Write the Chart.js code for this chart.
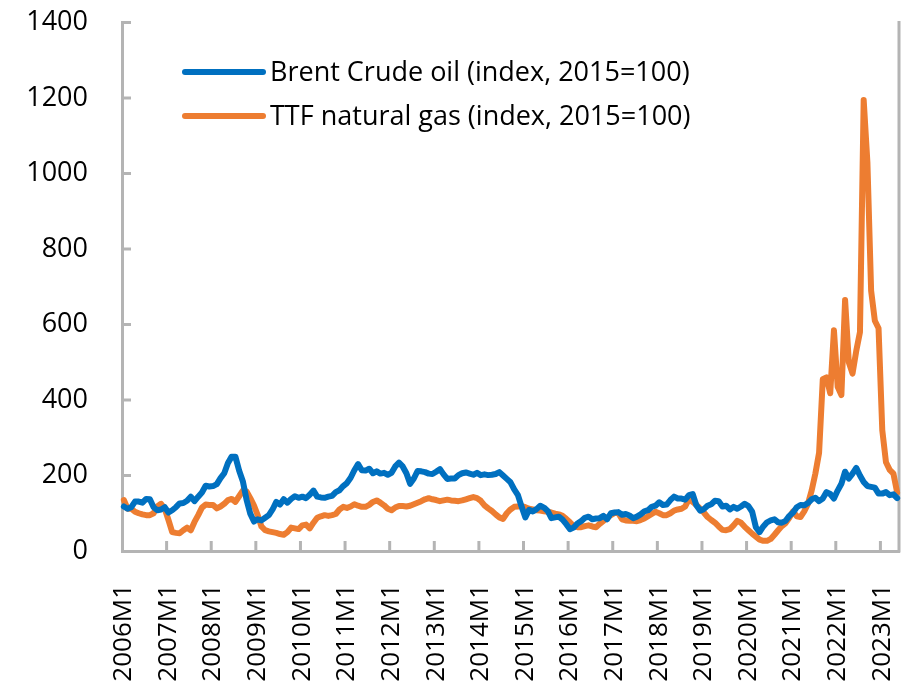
<!DOCTYPE html>
<html><head><meta charset="utf-8">
<script src="https://cdn.jsdelivr.net/npm/chart.js@4.4.1/dist/chart.umd.min.js"></script>
<style>html,body{margin:0;padding:0;background:#fff;}#wrap{width:910px;height:691px;position:relative;}</style>
</head><body><div id="wrap"><canvas id="c" width="910" height="691"></canvas></div>
<script>
// Categories: monthly, 2006M1 .. 2023M5
const firstYear = 2006, lastYear = 2023, lastMonth = 5;
const months = [];
for (let y = firstYear; y <= lastYear; y++) {
  for (let m = 1; m <= 12; m++) {
    if (y === lastYear && m > lastMonth) break;
    months.push(y + 'M' + m);
  }
}

// Brent Crude oil (index, 2015=100), monthly
const brent = [
  118,112,116,131,131,128,138,137,116,108,110,116, // 2006
  102,108,116,126,127,133,144,132,144,155,173,171, // 2007
  172,177,193,206,233,250,250,213,185,136,99,78,   // 2008
  84,81,88,95,110,130,123,137,128,138,145,141,     // 2009
  144,140,149,160,144,142,141,144,146,156,161,172, // 2010
  180,194,214,230,214,213,218,206,211,205,207,202, // 2011
  207,224,234,224,206,178,192,212,211,209,205,204, // 2012
  210,217,203,191,192,192,201,206,208,205,202,207, // 2013
  201,203,201,202,204,209,200,191,182,163,148,117, // 2014
  89,109,105,111,120,115,106,87,89,91,83,71,       // 2015
  58,62,73,79,88,91,84,86,87,93,84,100,            // 2016
  102,103,96,98,94,87,91,97,105,108,117,120,       // 2017
  129,122,123,135,144,139,139,136,148,151,121,107, // 2018
  111,120,124,133,132,118,120,110,117,112,118,125, // 2019
  119,104,63,50,65,76,81,84,76,75,80,93,           // 2020
  102,116,122,121,127,137,141,132,139,156,151,139, // 2021
  160,178,210,192,205,220,200,183,172,170,168,152, // 2022
  152,156,148,150,140                              // 2023
];

// TTF natural gas (index, 2015=100), monthly
const ttf = [
  135,112,112,104,100,97,95,95,100,118,125,112,    // 2006
  82,50,48,47,55,62,55,77,95,115,123,122,          // 2007
  122,113,118,125,135,138,130,145,160,158,140,120, // 2008
  95,65,55,52,50,48,45,43,50,62,60,58,             // 2009
  68,70,60,75,88,92,95,93,95,98,110,117,           // 2010
  114,118,124,120,117,117,122,130,134,128,121,112, // 2011
  108,115,119,119,118,120,124,128,132,137,140,137, // 2012
  135,132,134,136,134,133,132,134,137,140,143,140, // 2013
  133,121,113,106,97,89,85,100,110,117,118,119,    // 2014
  116,112,110,108,107,105,104,102,99,97,93,85,     // 2015
  76,66,63,63,66,68,65,63,72,80,88,95,             // 2016
  101,100,84,81,80,80,79,82,86,92,98,104,          // 2017
  100,95,95,100,107,110,112,118,138,130,122,112,   // 2018
  102,90,82,75,65,56,55,58,68,80,75,64,            // 2019
  55,46,38,30,27,27,32,43,55,66,74,88,             // 2020
  105,92,90,105,125,160,205,260,455,460,418,585,   // 2021
  435,413,665,500,470,530,580,1195,1030,690,610,590, // 2022
  320,235,215,205,155                              // 2023
];

const yTicks = [0, 200, 400, 600, 800, 1000, 1200, 1400];
const seriesNames = ['Brent Crude oil (index, 2015=100)', 'TTF natural gas (index, 2015=100)'];

const FONT = 'Open Sans';
const AXIS = '#b4b4b4';

const decor = {
  id: 'decor',
  beforeDatasetsDraw(chart) {
    const {ctx, chartArea: a, scales: {x, y}} = chart;
    ctx.save();
    ctx.strokeStyle = AXIS;
    ctx.lineWidth = 3;
    ctx.lineCap = 'butt';
    ctx.beginPath();
    ctx.moveTo(a.right, a.top - 1.5);
    ctx.lineTo(a.right, a.bottom + 1.5);
    ctx.stroke();
    yTicks.forEach(v => {
      if (v === 0) return;
      const py = y.getPixelForValue(v);
      ctx.beginPath();
      ctx.moveTo(a.left, py);
      ctx.lineTo(a.left + 9, py);
      ctx.stroke();
    });
    const half = (x.getPixelForValue(1) - x.getPixelForValue(0)) / 2;
    months.forEach((lab, i) => {
      if (i === 0 || lab.split('M')[1] !== '1') return;
      const px = x.getPixelForValue(i) - half;
      ctx.beginPath();
      ctx.moveTo(px, a.bottom);
      ctx.lineTo(px, a.bottom - 10);
      ctx.stroke();
    });
    ctx.restore();
  },
  afterDatasetsDraw(chart) {
    const {ctx, chartArea: a} = chart;
    ctx.save();
    chart.data.datasets.forEach((ds, k) => {
      const ly = a.top + 49.5 + k * 44;
      ctx.strokeStyle = ds.borderColor;
      ctx.lineWidth = 6;
      ctx.lineCap = 'round';
      ctx.beginPath();
      ctx.moveTo(a.left + 63, ly);
      ctx.lineTo(a.left + 141, ly);
      ctx.stroke();
      ctx.fillStyle = '#000';
      ctx.font = '27px "' + FONT + '"';
      ctx.textBaseline = 'middle';
      ctx.textAlign = 'left';
      ctx.fillText(ds.label, a.left + 148, ly + 1);
    });
    ctx.restore();
  }
};

new Chart(document.getElementById('c'), {
  type: 'line',
  data: {
    labels: months,
    datasets: [
      {label: seriesNames[0], data: brent, borderColor: '#0070C0', backgroundColor: '#0070C0',
       borderWidth: 6, pointRadius: 0, tension: 0, borderJoinStyle: 'round', borderCapStyle: 'round'},
      {label: seriesNames[1], data: ttf, borderColor: '#ED7D31', backgroundColor: '#ED7D31',
       borderWidth: 6, pointRadius: 0, tension: 0, borderJoinStyle: 'round', borderCapStyle: 'round'}
    ]
  },
  options: {
    responsive: false,
    animation: false,
    devicePixelRatio: 1,
    layout: {padding: {left: 0, right: 11, top: 22.5, bottom: 0}},
    plugins: {legend: {display: false}, tooltip: {enabled: false}},
    scales: {
      x: {
        type: 'category',
        offset: true,
        grid: {display: false, drawTicks: false},
        border: {display: true, color: AXIS, width: 3},
        afterFit: (s) => { s.height = 140; s.paddingLeft = 0; s.paddingRight = 0; },
        ticks: {
          autoSkip: false, maxRotation: 90, minRotation: 90, padding: 33,
          color: '#000', font: {family: FONT, size: 26},
          callback: function(v, i) { const l = months[i]; return l.split('M')[1] === '1' ? l : ''; }
        }
      },
      y: {
        min: 0, max: 1400,
        afterBuildTicks: (s) => { s.ticks = yTicks.map(v => ({value: v})); },
        afterFit: (s) => { s.width = 122; s.paddingTop = 0; s.paddingBottom = 0; },
        grid: {display: false, drawTicks: false},
        border: {display: true, color: AXIS, width: 3},
        ticks: {padding: 34, color: '#000', font: {family: FONT, size: 27},
          callback: (v) => String(v)}
      }
    }
  },
  plugins: [decor]
});
</script>
</body></html>
